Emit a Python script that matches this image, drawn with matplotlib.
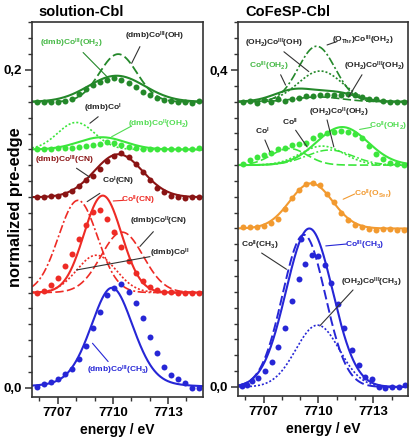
import numpy as np
import matplotlib
matplotlib.use('Agg')
import matplotlib.pyplot as plt
from matplotlib.ticker import MultipleLocator, FixedLocator, FixedFormatter

plt.rcParams['font.family'] = 'Liberation Sans'
plt.rcParams['font.weight'] = 'bold'
plt.rcParams['mathtext.fontset'] = 'custom'
plt.rcParams['mathtext.rm'] = 'Liberation Sans:bold'
plt.rcParams['mathtext.bf'] = 'Liberation Sans:bold'
plt.rcParams['mathtext.it'] = 'Liberation Sans:bold'
plt.rcParams['mathtext.default'] = 'bf'

#%% Data -----------------------------------------------------------------------
# energies of the measured points (eV)
e_grid = [7705.85, 7706.23, 7706.62, 7707.00, 7707.39, 7707.77, 7708.15, 7708.54,
          7708.92, 7709.31, 7709.69, 7710.08, 7710.46, 7710.85, 7711.23, 7711.62,
          7712.00, 7712.38, 7712.77, 7713.15, 7713.54, 7713.92, 7714.31, 7714.69]

# solution-Cbl, measured pre-edge (without offset)
sol_ch3_dots = [0.0008, 0.0023, 0.0038, 0.0055, 0.0088, 0.0117, 0.0180, 0.0264,
                0.0375, 0.0480, 0.0583, 0.0627, 0.0654, 0.0606, 0.0533, 0.0438,
                0.0319, 0.0222, 0.0130, 0.0082, 0.0059, 0.0033, 0.0000, 0.0000]
sol_cn_dots = [0.0000, 0.0010, 0.0046, 0.0092, 0.0167, 0.0245, 0.0340, 0.0428,
               0.0507, 0.0518, 0.0465, 0.0380, 0.0287, 0.0197, 0.0126, 0.0071,
               0.0035, 0.0015, 0.0005, 0.0005, 0.0000, 0.0000, 0.0000, 0.0000]
sol_cn3_dots = [0.0000, 0.0000, 0.0005, 0.0010, 0.0020, 0.0040, 0.0070, 0.0105,
                0.0135, 0.0180, 0.0230, 0.0260, 0.0275, 0.0250, 0.0210, 0.0160,
                0.0105, 0.0060, 0.0030, 0.0010, 0.0000, -0.0005, 0.0000, 0.0000]
sol_oh2_dots = [0.0000, 0.0000, 0.0005, 0.0008, 0.0010, 0.0012, 0.0018, 0.0020,
                0.0028, 0.0035, 0.0045, 0.0040, 0.0028, 0.0015, 0.0008, 0.0005,
                0.0000, 0.0000, 0.0000, 0.0000, 0.0000, 0.0003, 0.0000, 0.0008]
sol_oh_dots = [0.0000, 0.0000, 0.0000, 0.0000, 0.0004, 0.0015, 0.0052, 0.0078,
               0.0105, 0.0126, 0.0140, 0.0147, 0.0140, 0.0120, 0.0094, 0.0063,
               0.0042, 0.0021, 0.0010, 0.0004, 0.0000, 0.0000, -0.0006, 0.0002]

# CoFeSP-Cbl, measured pre-edge (without offset)
fesp_ch3_e = [7705.84, 7706.11, 7706.38, 7706.71, 7707.07, 7707.44, 7707.80, 7708.16,
              7708.55, 7708.91, 7709.06, 7709.27, 7709.64, 7710.00, 7710.37, 7710.69,
              7711.09, 7711.40, 7711.84, 7712.24, 7712.56, 7712.93, 7713.33, 7713.66,
              7714.00, 7714.38, 7714.75]
fesp_ch3_dots = [0.0013, 0.0025, 0.0080, 0.0110, 0.0206, 0.0320, 0.0510, 0.0740,
                 0.1080, 0.1360, 0.1870, 0.1550, 0.1670, 0.1650, 0.1540, 0.1310,
                 0.1050, 0.0750, 0.0470, 0.0280, 0.0130, 0.0097, 0.0004, -0.0017,
                 0.0000, 0.0004, 0.0020]
fesp_ser_dots = [0.0020, 0.0020, 0.0020, 0.0034, 0.0064, 0.0114, 0.0240, 0.0380,
                 0.0490, 0.0567, 0.0577, 0.0547, 0.0441, 0.0337, 0.0198, 0.0106,
                 0.0043, 0.0013, -0.0012, -0.0020, -0.0012, -0.0012, -0.0020, -0.0020]
fesp_co2_dots = [0.0017, 0.0059, 0.0105, 0.0122, 0.0156, 0.0198, 0.0219, 0.0248,
                 0.0260, 0.0282, 0.0336, 0.0378, 0.0404, 0.0420, 0.0429, 0.0420,
                 0.0395, 0.0336, 0.0240, 0.0134, 0.0071, 0.0029, 0.0008, 0.0000]
fesp_co3_dots = [0.0000, 0.0010, -0.0020, 0.0020, -0.0010, 0.0030, 0.0010, 0.0040,
                 0.0050, 0.0070, 0.0070, 0.0080, 0.0090, 0.0080, 0.0090, 0.0100,
                 0.0080, 0.0060, 0.0040, 0.0030, 0.0010, 0.0000, -0.0010, 0.0000]

# calculated spectra: (centre eV, height, fwhm eV, lorentz fraction)
sol_co3ch3_fit = [(7709.95, 0.063, 2.75, 0.25)]
sol_co2cn_fit = [(7709.45, 0.061, 2.40, 0.0)]
sol_co1cn_fit = [(7708.10, 0.058, 2.50, 0.0)]
sol_dmbco2cn_fit = [(7710.50, 0.038, 2.70, 0.0)]
sol_dmbco2_fit = [(7709.10, 0.0235, 2.50, 0.0)]
sol_co3cn_fit = [(7710.30, 0.027, 3.10, 0.0)]
sol_co2oh2_fit = [(7709.40, 0.0077, 3.00, 0.0)]
sol_dmbco1_fit = [(7708.00, 0.017, 2.36, 0.0)]
sol_co3oh2_fit = [(7710.20, 0.0164, 3.60, 0.0)]
sol_co3oh_fit = [(7710.29, 0.030, 2.40, 0.0)]

fesp_co3ch3_fit = [(7709.50, 0.200, 3.00, 0.0)]
fesp_co2ch3_fit = [(7709.20, 0.192, 2.75, 0.0)]
fesp_oh2co3ch3_fit = [(7709.95, 0.078, 2.80, 0.0)]
fesp_ser_fit = [(7709.60, 0.057, 2.75, 0.0)]
fesp_co2oh2_fit = [(7711.30, 0.048, 3.30, 0.0)]
fesp_co1_fit = [(7708.40, 0.021, 2.30, 0.0)]
fesp_co2_fit = [(7710.20, 0.024, 2.80, 0.0)]
fesp_oh2co2oh2_fit = [(7710.60, 0.019, 3.00, 0.0)]
fesp_co3oh2_fit = [(7708.70, 0.015, 2.60, 0.0), (7711.00, 0.011, 2.60, 0.0)]
fesp_othr_fit = [(7709.90, 0.070, 2.37, 0.0)]
fesp_oh2co3oh_fit = [(7710.10, 0.0387, 2.85, 0.0)]
fesp_oh2co3oh2_fit = [(7710.00, 0.006, 3.00, 0.0)]

# vertical offsets of the stacked spectra
sol_offsets = {'ch3': 0.0, 'cn': 0.06, 'cn3': 0.12, 'oh2': 0.15, 'oh': 0.18}
fesp_offsets = {'ch3': 0.0, 'ser': 0.20, 'co2': 0.28, 'co3': 0.36}

#%% Styles ---------------------------------------------------------------------
blue = '#2626d6'
red = '#ee2b25'
maroon = '#8a1414'
lgreen = '#3ce63c'
dgreen = '#24882a'
orange = '#f29a30'
lab_green = '#45b845'
lab_lgreen = '#52dc52'
grey = '#333333'

ls_dash = (0, (5, 2))
ls_dot = (0, (1.2, 1.2))
ls_dashdot = (0, (5, 1.5, 1.2, 1.5))

energy = np.linspace(7705.6, 7714.9, 500)


def calc(comps):
    y = np.zeros_like(energy)
    for c, h, w, eta in comps:
        g = np.exp(-4 * np.log(2) * ((energy - c) / w) ** 2)
        l = 1 / (1 + (2 * (energy - c) / w) ** 2)
        y += h * ((1 - eta) * g + eta * l)
    return y


def draw(ax, comps, off, color, ls='-', lw=1.5):
    ax.plot(energy, calc(comps) + off, color=color, ls=ls, lw=lw)


def dots(ax, e, vals, off, color):
    ax.plot(e, np.array(vals) + off, 'o', color=color, ms=4.3, mew=0)


def label(ax, text, pos, start, tip, color='#222222', lcolor=None):
    ax.text(pos[0], pos[1], text, color=color, fontsize=6, ha='center',
            va='center', fontweight='bold')
    ax.annotate('', xy=tip, xytext=start,
                arrowprops=dict(arrowstyle='-', color=lcolor or color, lw=0.8,
                                shrinkA=0, shrinkB=0))


fig = plt.figure(figsize=(4.14, 4.38), dpi=100)
ax1 = fig.add_axes([0.0773, 0.0936, 0.413, 0.8562])
ax2 = fig.add_axes([0.575, 0.0959, 0.4106, 0.8539])

#%% solution-Cbl ---------------------------------------------------------------
o = sol_offsets
dots(ax1, e_grid, sol_oh_dots, o['oh'], dgreen)
draw(ax1, sol_co3oh2_fit, o['oh'], dgreen)
draw(ax1, sol_co3oh_fit, o['oh'], dgreen, ls_dash, 1.3)

dots(ax1, e_grid, sol_oh2_dots, o['oh2'], lgreen)
draw(ax1, sol_co2oh2_fit, o['oh2'], lgreen)
draw(ax1, sol_dmbco1_fit, o['oh2'], lgreen, ls_dot, 1.2)

dots(ax1, e_grid, sol_cn3_dots, o['cn3'], maroon)
draw(ax1, sol_co3cn_fit, o['cn3'], maroon)

dots(ax1, e_grid, sol_cn_dots, o['cn'], red)
draw(ax1, sol_co2cn_fit, o['cn'], red)
draw(ax1, sol_co1cn_fit, o['cn'], red, ls_dashdot, 1.2)
draw(ax1, sol_dmbco2cn_fit, o['cn'], red, ls_dash, 1.2)
draw(ax1, sol_dmbco2_fit, o['cn'], red, ls_dot, 1.2)

dots(ax1, e_grid, sol_ch3_dots, o['ch3'], blue)
draw(ax1, sol_co3ch3_fit, o['ch3'], blue)

label(ax1, '(dmb)Co$^{III}$(OH$_2$)', (7707.75, 0.217), (7708.38, 0.211),
      (7709.66, 0.196), lab_green, dgreen)
label(ax1, '(dmb)Co$^{III}$(OH)', (7712.3, 0.221), (7711.47, 0.2147),
      (7711.02, 0.2042), lcolor=grey)
label(ax1, '(dmb)Co$^{I}$', (7709.47, 0.176), (7709.2, 0.1706),
      (7708.75, 0.1665), lcolor=grey)
label(ax1, '(dmb)Co$^{II}$(OH$_2$)', (7712.5, 0.166), (7711.02, 0.1648),
      (7709.93, 0.158), lab_lgreen)
label(ax1, '(dmb)Co$^{III}$(CN)', (7707.38, 0.143), (7708.02, 0.1382),
      (7708.75, 0.1325), maroon, grey)
label(ax1, 'Co$^{I}$(CN)', (7710.29, 0.130), (7709.29, 0.1224),
      (7708.6, 0.1172), lcolor=grey)
label(ax1, 'Co$^{II}$(CN)', (7711.35, 0.118), (7710.56, 0.118),
      (7710.02, 0.1176), red)
label(ax1, '(dmb)Co$^{II}$(CN)', (7712.47, 0.105), (7712.2, 0.0983),
      (7711.47, 0.089), lcolor=grey)
label(ax1, '(dmb)Co$^{II}$', (7713.11, 0.0847), (7712.02, 0.0826),
      (7708.02, 0.0742), lcolor=grey)
label(ax1, '(dmb)Co$^{III}$(CH$_3$)', (7710.29, 0.0109), (7709.74, 0.0166),
      (7708.89, 0.0281), blue)

ax1.set_ylim(-0.0057, 0.2302)
ax1.yaxis.set_major_locator(FixedLocator([0.0, 0.2]))
ax1.yaxis.set_major_formatter(FixedFormatter(['0,0', '0,2']))
ax1.yaxis.set_minor_locator(MultipleLocator(0.01))

#%% CoFeSP-Cbl -----------------------------------------------------------------
o = fesp_offsets
dots(ax2, e_grid, fesp_co3_dots, o['co3'], dgreen)
draw(ax2, fesp_co3oh2_fit, o['co3'], dgreen)
draw(ax2, fesp_othr_fit, o['co3'], dgreen, ls_dashdot, 1.2)
draw(ax2, fesp_oh2co3oh_fit, o['co3'], dgreen, ls_dot, 1.2)
draw(ax2, fesp_oh2co3oh2_fit, o['co3'], dgreen, ls_dash, 1.2)

dots(ax2, e_grid, fesp_co2_dots, o['co2'], lgreen)
draw(ax2, fesp_co2oh2_fit, o['co2'], lgreen)
draw(ax2, fesp_co1_fit, o['co2'], lgreen, ls_dash, 1.2)
draw(ax2, fesp_co2_fit, o['co2'], lgreen, ls_dot, 1.2)
draw(ax2, fesp_oh2co2oh2_fit, o['co2'], lgreen, ls_dashdot, 1.1)

dots(ax2, e_grid, fesp_ser_dots, o['ser'], orange)
draw(ax2, fesp_ser_fit, o['ser'], orange)

dots(ax2, fesp_ch3_e, fesp_ch3_dots, o['ch3'], blue)
draw(ax2, fesp_co3ch3_fit, o['ch3'], blue)
draw(ax2, fesp_co2ch3_fit, o['ch3'], blue, ls_dash, 1.4)
draw(ax2, fesp_oh2co3ch3_fit, o['ch3'], blue, ls_dot, 1.2)

label(ax2, '(OH$_2$)Co$^{III}$(OH)', (7707.56, 0.434), (7708.11, 0.423),
      (7709.47, 0.398), lcolor=grey)
label(ax2, '(O$_{Thr}$)Co$^{III}$(OH$_2$)', (7712.4, 0.438), (7711.02, 0.436),
      (7710.47, 0.4316), lcolor=grey)
label(ax2, 'Co$^{III}$(OH$_2$)', (7707.29, 0.405), (7707.93, 0.394),
      (7708.2, 0.381), lab_green, grey)
label(ax2, '(OH$_2$)Co$^{III}$(OH$_2$)', (7713.1, 0.405), (7712.38, 0.394),
      (7711.65, 0.366), lcolor=grey)
label(ax2, '(OH$_2$)Co$^{II}$(OH$_2$)', (7711.11, 0.346), (7710.47, 0.337),
      (7710.84, 0.303), lcolor=grey)
label(ax2, 'Co$^{II}$', (7708.47, 0.334), (7708.75, 0.324),
      (7709.38, 0.303), lcolor=grey)
label(ax2, 'Co$^{I}$', (7706.93, 0.322), (7707.07, 0.3117),
      (7707.34, 0.2969), lcolor=grey)
label(ax2, 'Co$^{II}$(OH$_2$)', (7713.8, 0.329), (7712.89, 0.3277),
      (7712.25, 0.325), lab_lgreen)
label(ax2, 'Co$^{II}$(O$_{Ser}$)', (7712.98, 0.2435), (7711.98, 0.2435),
      (7711.35, 0.2369), orange)
label(ax2, 'Co$^{II}$(CH$_3$)', (7706.8, 0.179), (7706.89, 0.169),
      (7708.25, 0.1485), lcolor=grey)
label(ax2, 'Co$^{III}$(CH$_3$)', (7712.55, 0.179), (7711.53, 0.1804),
      (7710.4, 0.178), blue)
label(ax2, '(OH$_2$)Co$^{III}$(CH$_3$)', (7712.9, 0.1316), (7711.89, 0.1224),
      (7710.07, 0.077), lcolor=grey)

ax2.set_ylim(-0.0114, 0.4606)
ax2.yaxis.set_major_locator(FixedLocator([0.0, 0.4]))
ax2.yaxis.set_major_formatter(FixedFormatter(['0,0', '0,4']))
ax2.yaxis.set_minor_locator(MultipleLocator(0.02))

#%% Common axis formatting -----------------------------------------------------
for ax in (ax1, ax2):
    ax.set_xlim(7705.6, 7714.9)
    ax.xaxis.set_major_locator(FixedLocator([7707, 7710, 7713]))
    ax.xaxis.set_major_formatter(FixedFormatter(['7707', '7710', '7713']))
    ax.xaxis.set_minor_locator(MultipleLocator(1))
    ax.tick_params(which='major', length=5, width=1.1, labelsize=9.5,
                   color=grey, pad=2)
    ax.tick_params(which='minor', length=3, width=1.0, color=grey)
    for s in ax.spines.values():
        s.set_linewidth(1.2)
        s.set_color(grey)
    for t in ax.get_xticklabels() + ax.get_yticklabels():
        t.set_fontweight('bold')
    ax.set_xlabel('energy / eV', fontsize=10, fontweight='bold', labelpad=3)

fig.text(0.092, 0.973, 'solution-Cbl', fontsize=10.5, fontweight='bold',
         va='center', ha='left')
fig.text(0.592, 0.973, 'CoFeSP-Cbl', fontsize=10.5, fontweight='bold',
         va='center', ha='left')
fig.text(0.038, 0.527, 'normalized pre-edge', fontsize=11.8, fontweight='bold',
         rotation=90, va='center', ha='center')

fig.savefig('out.png', dpi=100, facecolor='w')
